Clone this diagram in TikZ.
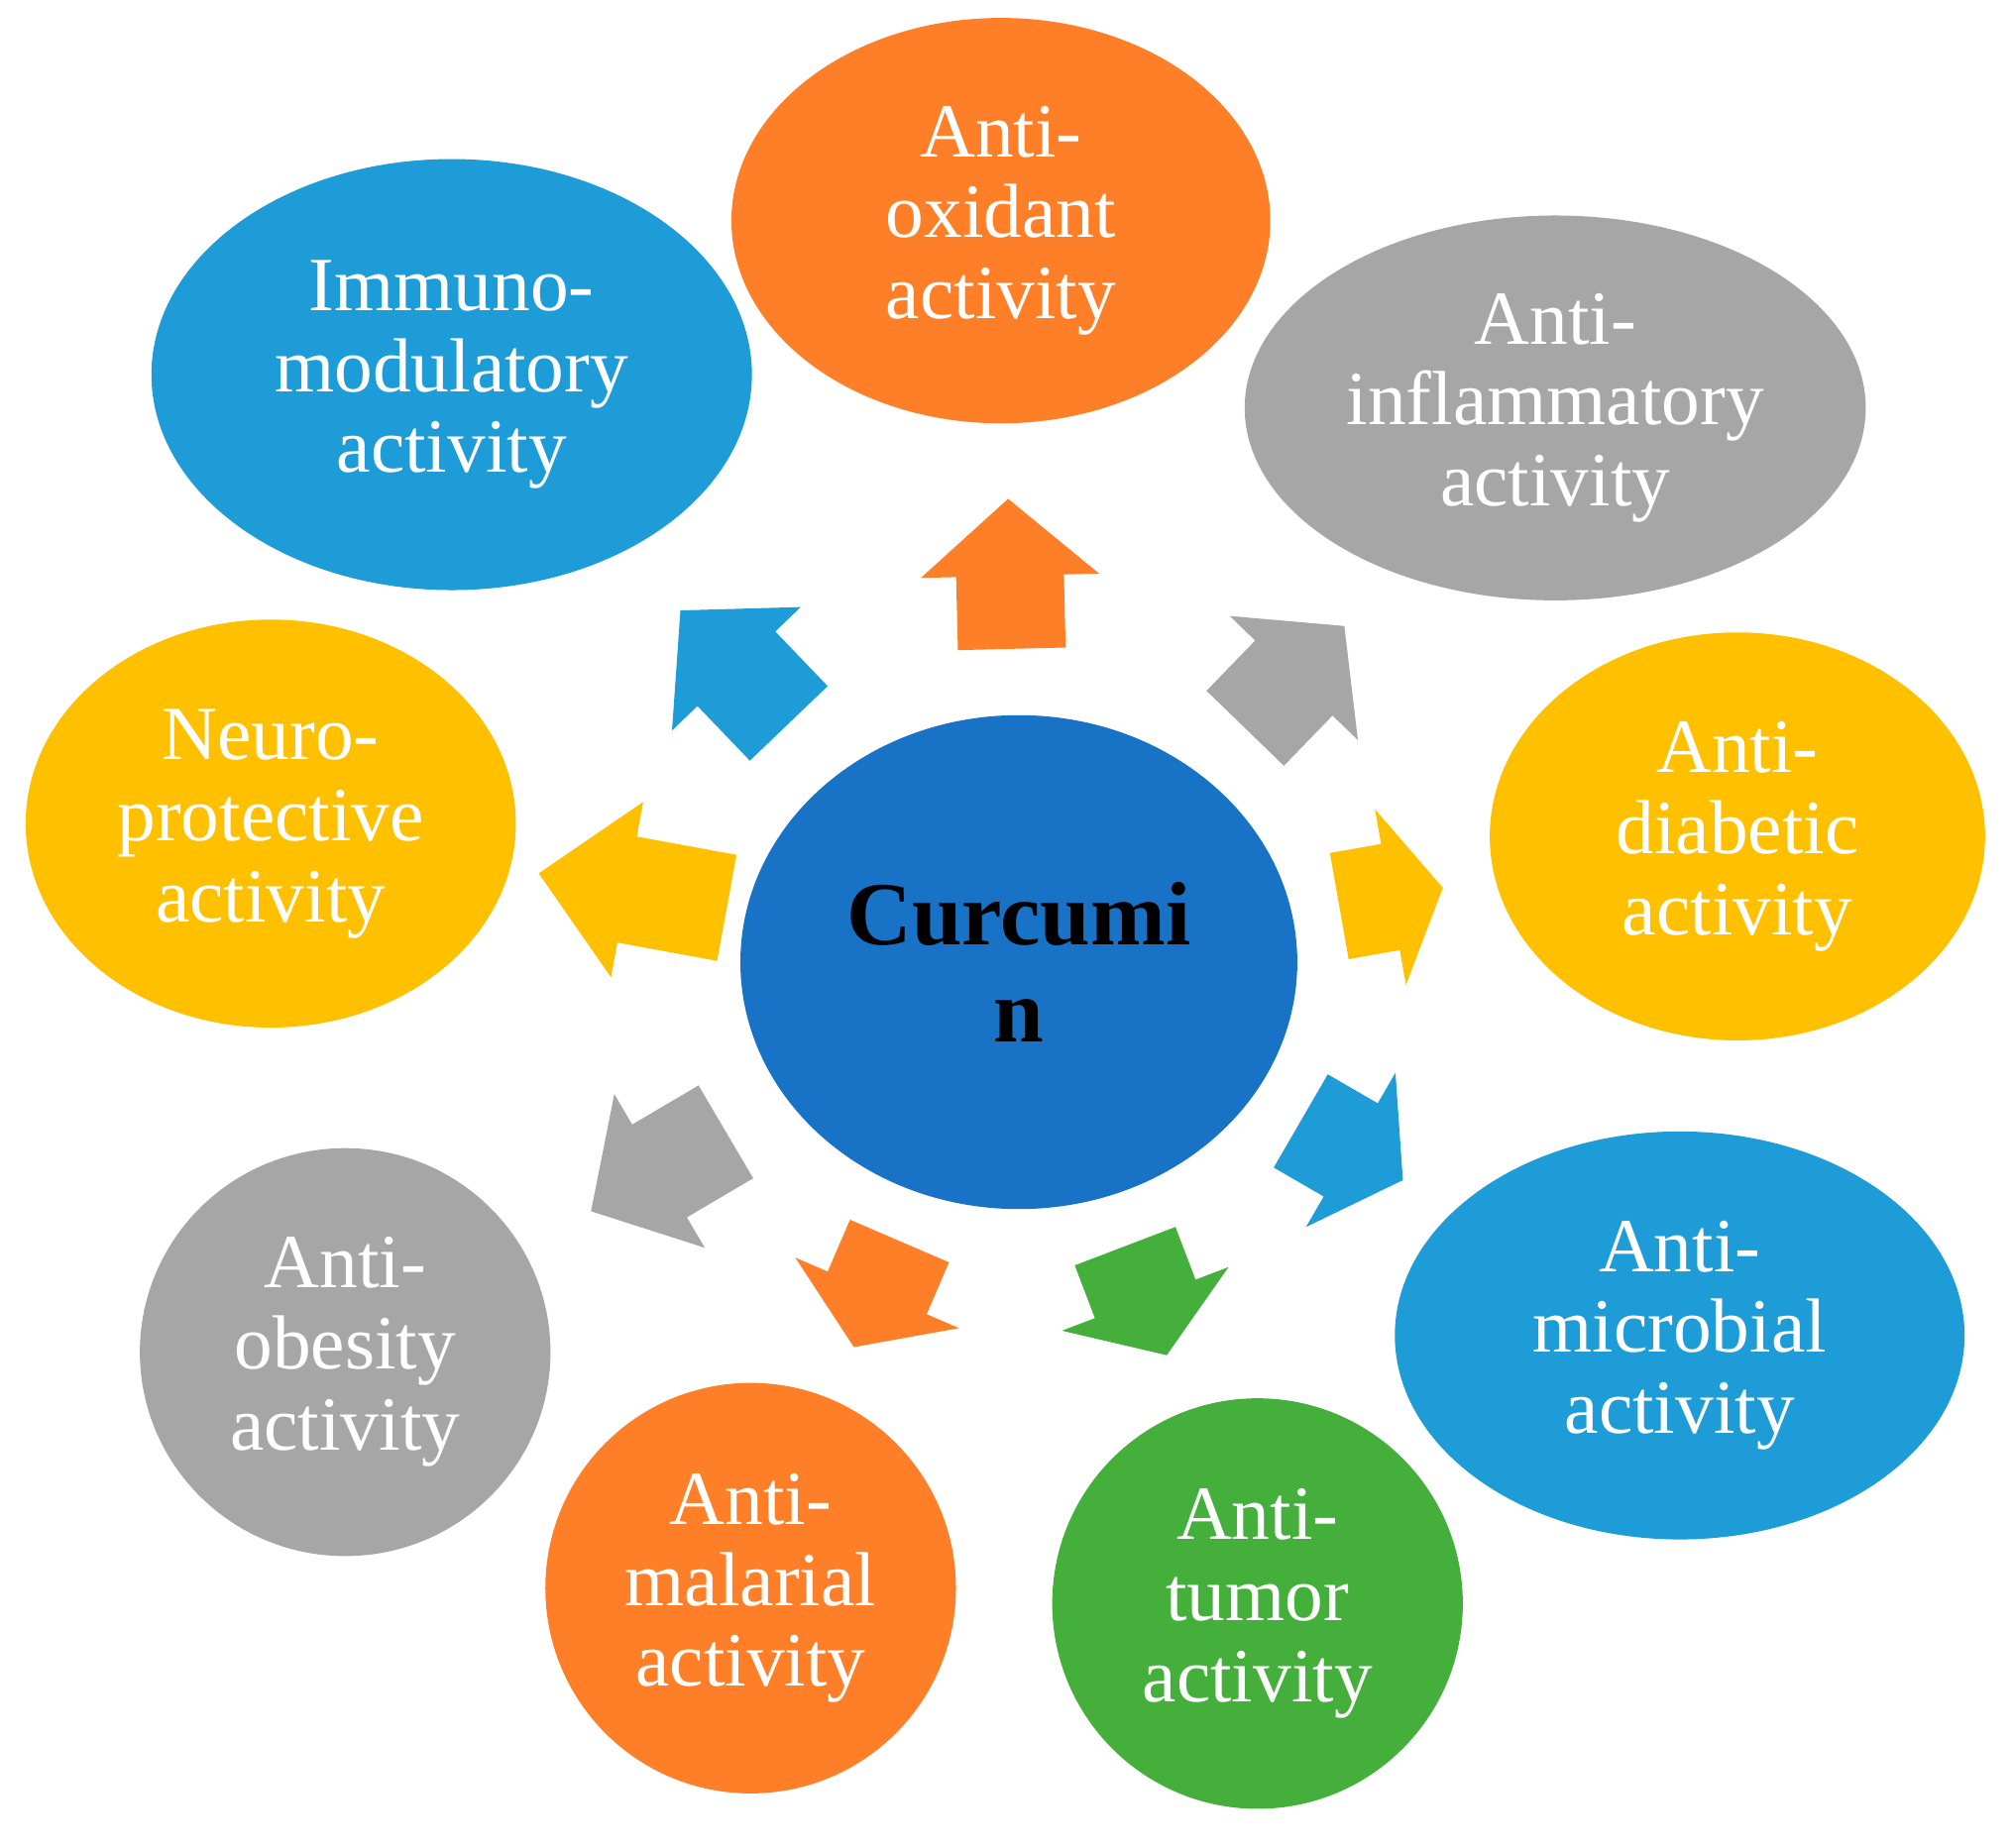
\documentclass[tikz,border=0pt]{standalone}
\usepackage{fontspec}
\setmainfont{Liberation Serif}
\usetikzlibrary{shapes.geometric}

\definecolor{actorange}{RGB}{254,127,39}
\definecolor{actgray}{RGB}{166,166,166}
\definecolor{actyellow}{RGB}{255,192,0}
\definecolor{actblue}{RGB}{30,156,215}
\definecolor{actgreen}{RGB}{68,176,59}
\definecolor{coreblue}{RGB}{24,115,199}

\tikzset{
  activity/.style={ellipse, fill=#1, inner sep=0pt, align=center, text=white,
    font=\fontsize{17}{18}\selectfont},
}

% block arrow: base point, angle, length, head length, colour
\newcommand{\fatarrow}[5]{%
  \fill[#5, shift={(#1)}, rotate=#2]
    (0,-0.42) -- (#3-#4,-0.42) -- (#3-#4,-0.695) -- (#3,0)
    -- (#3-#4,0.695) -- (#3-#4,0.42) -- (0,0.42) -- cycle;
}

\begin{document}
\begin{tikzpicture}
\useasboundingbox (0,0) rectangle (15.68,14.40);

% hub
\node[ellipse, fill=coreblue, inner sep=0pt, minimum width=4.34cm, minimum height=3.85cm,
      align=center, font=\bfseries\fontsize{20}{21.5}\selectfont] (curcumin) at (7.94,6.90)
      {Curcumi\\n};

% activities
\node[activity=actorange, minimum width=4.20cm, minimum height=3.16cm] (oxidant) at (7.80,12.68)
      {Anti-\\oxidant\\activity};
\node[activity=actgray, minimum width=4.84cm, minimum height=3.00cm] (inflam) at (12.12,11.22)
      {Anti-\\inflammatory\\activity};
\node[activity=actyellow, minimum width=3.86cm, minimum height=3.18cm] (diabetic) at (13.54,7.88)
      {Anti-\\diabetic\\activity};
\node[activity=actblue, minimum width=4.44cm, minimum height=3.18cm] (microbial) at (13.09,3.99)
      {Anti-\\microbial\\activity};
\node[activity=actgreen, minimum width=3.20cm, minimum height=3.20cm] (tumor) at (9.80,1.90)
      {Anti-\\tumor\\activity};
\node[activity=actorange, minimum width=3.20cm, minimum height=3.20cm] (malarial) at (5.85,2.02)
      {Anti-\\malarial\\activity};
\node[activity=actgray, minimum width=3.20cm, minimum height=3.18cm] (obesity) at (2.69,3.86)
      {Anti-\\obesity\\activity};
\node[activity=actyellow, minimum width=3.82cm, minimum height=3.18cm] (neuro) at (2.11,7.98)
      {Neuro-\\protective\\activity};
\node[activity=actblue, minimum width=4.68cm, minimum height=3.36cm] (immuno) at (3.52,11.48)
      {Immuno-\\modulatory\\activity};

% arrows out of the hub
\fatarrow{7.885,9.342}{91.4}{1.17}{0.60}{actorange}
\fatarrow{9.704,8.723}{45.9}{1.11}{0.565}{actgray}
\fatarrow{10.437,7.337}{10}{0.82}{0.415}{actyellow}
\fatarrow{10.137,5.662}{-30.1}{0.92}{0.47}{actblue}
\fatarrow{8.768,4.686}{-69.1}{0.91}{0.47}{actgreen}
\fatarrow{7.01,4.726}{-113.3}{0.90}{0.46}{actorange}
\fatarrow{5.657,5.577}{-149.5}{1.22}{0.62}{actgray}
\fatarrow{5.664,7.323}{169.6}{1.49}{0.70}{actyellow}
\fatarrow{6.147,8.761}{133.8}{1.22}{0.63}{actblue}
\end{tikzpicture}
\end{document}
